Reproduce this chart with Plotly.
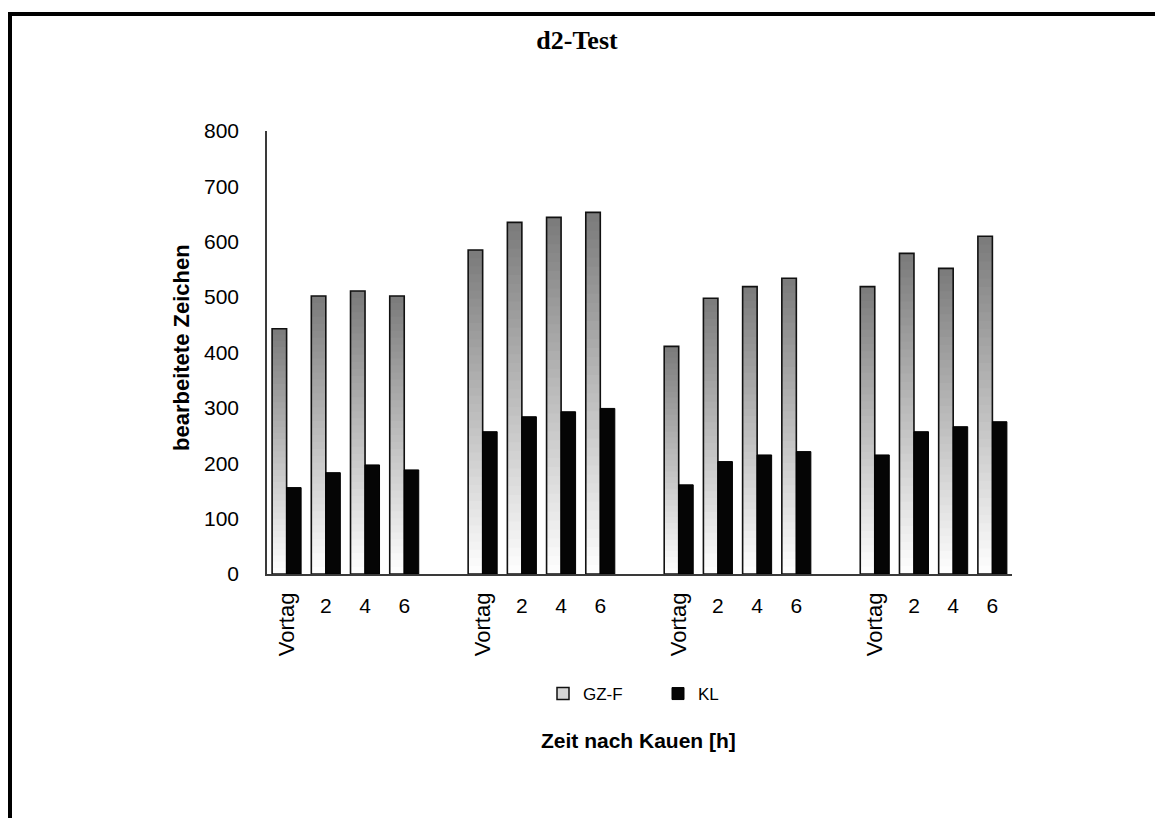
import plotly.graph_objects as go

# ---- data ----
time_labels = ["Vortag", "2", "4", "6"]
n_groups = 4
gzf_values = [443, 502, 511, 502, 585, 635, 644, 653, 411, 498, 519, 534, 519, 579, 552, 610]
kl_values = [156, 183, 197, 188, 257, 284, 293, 299, 161, 203, 215, 221, 215, 257, 266, 275]
y_ticks = [0, 100, 200, 300, 400, 500, 600, 700, 800]

# category slots: 4 per group, one empty slot between groups
xpos = [g * 5 + i for g in range(n_groups) for i in range(len(time_labels))]
vortag_pos = [g * 5 for g in range(n_groups)]
num_pos = [g * 5 + i for g in range(n_groups) for i in range(1, len(time_labels))]
num_text = [time_labels[i] for g in range(n_groups) for i in range(1, len(time_labels))]

W, H = 1155, 818
L, R, T, B = 267, 1012, 131, 574
FONT = "Liberation Sans, Arial, sans-serif"

fig = go.Figure()

# gradient fill of GZ-F bars: overlapping bars from base, grey at top -> white at bottom
N = 40
top_c = (122, 122, 122)
bot_c = (255, 255, 255)
for k in range(N):
    frac_top = (N - k) / N
    f = (N - k - 0.5) / N
    c = tuple(round(bot_c[j] + (top_c[j] - bot_c[j]) * f) for j in range(3))
    fig.add_trace(go.Bar(
        x=xpos, y=[v * frac_top for v in gzf_values],
        marker=dict(color="rgb(%d,%d,%d)" % c, line=dict(width=0)),
        offsetgroup="gz", showlegend=False, hoverinfo="skip",
    ))
# outline of GZ-F bars
fig.add_trace(go.Bar(
    x=xpos, y=gzf_values, name="GZ-F",
    marker=dict(color="rgba(0,0,0,0)", line=dict(color="#111111", width=1.6)),
    offsetgroup="gz", showlegend=False,
))
# legend entry for GZ-F
fig.add_trace(go.Bar(
    x=[None], y=[None], name="GZ-F",
    marker=dict(color="#d6d6d6", line=dict(color="#111111", width=1.5)),
    offsetgroup="gz", showlegend=True,
))
fig.add_trace(go.Bar(
    x=xpos, y=kl_values, name="KL",
    marker=dict(color="#050505", line=dict(color="#000000", width=1)),
    offsetgroup="kl",
))
# carrier for the second label axis (hours)
fig.add_trace(go.Scatter(
    x=num_pos, y=[None] * len(num_pos), xaxis="x2", yaxis="y",
    mode="markers", showlegend=False, hoverinfo="skip",
))

px2x = lambda p: (p - L) / (R - L)
px2y = lambda p: (B - p) / (B - T)

fig.update_layout(
    width=W, height=H,
    margin=dict(l=L, r=W - R, t=T, b=H - B),
    paper_bgcolor="white", plot_bgcolor="white",
    barmode="group", bargap=0.26, bargroupgap=0,
    font=dict(family=FONT, color="#000000"),
    title=dict(text="<b>d2-Test</b>", x=577 / W, xref="container", xanchor="center",
               y=1 - 40 / H, yanchor="middle",
               font=dict(family="Liberation Serif, Times New Roman, serif", size=26)),
    xaxis=dict(range=[-0.5, 18.5], tickmode="array", tickvals=vortag_pos,
               ticktext=[time_labels[0]] * len(vortag_pos), tickangle=-90,
               ticks="", showgrid=False, zeroline=False,
               showline=True, linecolor="#3a3a3a", linewidth=1.5,
               tickfont=dict(size=22), ticklabelstandoff=8),
    xaxis2=dict(range=[-0.5, 18.5], overlaying="x", anchor="y", side="bottom",
                tickmode="array", tickvals=num_pos, ticktext=num_text, tickangle=0,
                ticks="", showgrid=False, zeroline=False, showline=False,
                tickfont=dict(size=21), ticklabelstandoff=17),
    yaxis=dict(range=[0, 800], tickmode="array", tickvals=y_ticks,
               ticks="", showgrid=False, zeroline=False,
               showline=True, linecolor="#3a3a3a", linewidth=1.5,
               tickfont=dict(size=21), ticklabelstandoff=22),
    legend=dict(orientation="h", x=px2x(658), xanchor="center", y=px2y(694), yanchor="middle",
                font=dict(size=17), bgcolor="rgba(0,0,0,0)",
                entrywidth=70, entrywidthmode="pixels", traceorder="normal"),
    annotations=[
        dict(text="<b>Zeit nach Kauen [h]</b>", xref="paper", yref="paper",
             x=px2x(638), y=px2y(740), xanchor="center", yanchor="middle",
             showarrow=False, font=dict(size=21)),
        dict(text="<b>bearbeitete Zeichen</b>", xref="paper", yref="paper",
             x=px2x(181), y=px2y(348), xanchor="center", yanchor="middle",
             textangle=-90, showarrow=False, font=dict(size=22)),
    ],
    shapes=[
        dict(type="line", xref="paper", yref="paper", x0=px2x(8), x1=px2x(1155),
             y0=px2y(14), y1=px2y(14), line=dict(color="#000000", width=4)),
        dict(type="line", xref="paper", yref="paper", x0=px2x(10), x1=px2x(10),
             y0=px2y(12), y1=px2y(818), line=dict(color="#000000", width=4)),
    ],
)

fig.write_html("out.html")
